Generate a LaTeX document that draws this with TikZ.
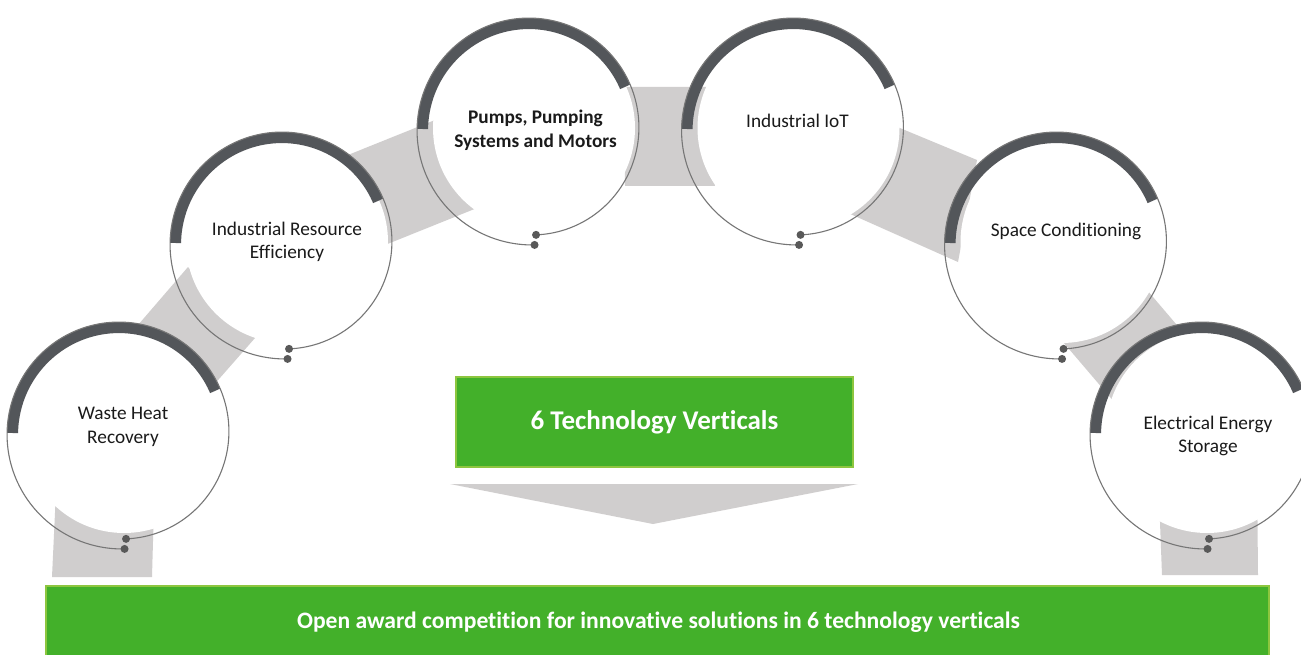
\documentclass[tikz,border=0pt]{standalone}
\usepackage{fontspec}
\setmainfont{Carlito}[Ligatures=NoCommon]
\definecolor{bandgray}{HTML}{D0CECE}
\definecolor{arcdark}{HTML}{53565A}
\definecolor{linegray}{HTML}{767676}
\definecolor{dotdark}{HTML}{595959}
\definecolor{greenfill}{HTML}{43B02A}
\definecolor{greenedge}{HTML}{8DC63F}
\definecolor{txt}{HTML}{1A1A1A}
\newcommand\TechRing[3]{%
  \fill[white] (#1+3.5,#2-1) circle[radius=101];
  \draw[ringarc] plot[domain=24:180,samples=80] ({#1+(100.5+10*(\x+87)/359)*cos(\x)},{#2-(100.5+10*(\x+87)/359)*sin(\x)});
  \draw[ringline] plot[domain=-87:272,samples=180] ({#1+(106+10*(\x+87)/359)*cos(\x)},{#2-(106+10*(\x+87)/359)*sin(\x)});
  \fill[ringdot] ({#1+106*cos(-87)},{#2-106*sin(-87)}) circle[radius=4];
  \fill[ringdot] ({#1+116*cos(272)},{#2-116*sin(272)}) circle[radius=4];
  \node[circle,minimum size=222pt,inner sep=0pt] (#3) at (#1,#2) {};
}
\begin{document}
\begin{tikzpicture}[x=1pt,y=-1pt,
  band/.style={fill=bandgray},
  ringarc/.style={draw=arcdark,line width=11pt},
  ringline/.style={draw=linegray,line width=1.1pt},
  ringdot/.style={fill=dotdark},
  ringlabel/.style={font=\fontsize{19.3}{23.5}\selectfont,align=center,text=txt,inner sep=0pt},
  greenbox/.style={fill=greenfill,draw=greenedge,line width=2pt,text=white,inner sep=0pt}]
\useasboundingbox (0,0) rectangle (1301,655);
\clip (0,0) rectangle (1301,655);
\fill[white] (0,0) rectangle (1301,655);
% gray band
\fill[band] (52,577) -- (152,577) -- (155,470) -- (57,470) -- cycle;
\fill[band] (132,332) -- (188,267) -- (255,338) -- (212,387) -- cycle;
\fill[band] (338,159) -- (435,120) -- (482,206) -- (385,245) -- cycle;
\fill[band] (624,87) -- (710,87) -- (715,186) -- (625,186) -- cycle;
\fill[band] (895,126) -- (977,160) -- (958,262) -- (848,213) -- cycle;
\fill[band] (1063,342) -- (1147,290) -- (1205,358) -- (1121,410) -- cycle;
\fill[band] (1158,470) -- (1257,470) -- (1258,575) -- (1162,575) -- cycle;
% chevron
\fill[band] (450,484) -- (858,484) -- (653,524) -- cycle;
% rings
\TechRing{120.5}{433}{r1}
\TechRing{283.5}{243}{r2}
\TechRing{530.5}{129}{r3}
\TechRing{795}{129}{r4}
\TechRing{1058}{243}{r5}
\TechRing{1203.5}{433}{r6}
% labels
\node[ringlabel] (wh) at (123,427) {Waste Heat\\Recovery};
\node[ringlabel] (ire) at (287,242) {Industrial Resource\\Efficiency};
\node[ringlabel,font=\fontsize{19.3}{23.5}\selectfont\bfseries] (pumps) at (535.5,130) {Pumps, Pumping\\Systems and Motors};
\node[ringlabel] (iiot) at (797.5,121) {Industrial IoT};
\node[ringlabel] (space) at (1066,231) {Space Conditioning};
\node[ringlabel] (ees) at (1208,436) {Electrical Energy\\Storage};
% green boxes
\node[greenbox,minimum width=397pt,minimum height=90pt,font=\fontsize{27}{32}\selectfont\bfseries] (tv) at (654.5,422) {6 Technology Verticals};
\node[greenbox,minimum width=1223pt,minimum height=90pt,anchor=north] (award) at (657.5,585) {};
\node[text=white,inner sep=0pt,font=\fontsize{23.6}{28}\selectfont\bfseries] (awardtxt) at (658.5,622) {Open award competition for innovative solutions in 6 technology verticals};
\end{tikzpicture}
\end{document}
